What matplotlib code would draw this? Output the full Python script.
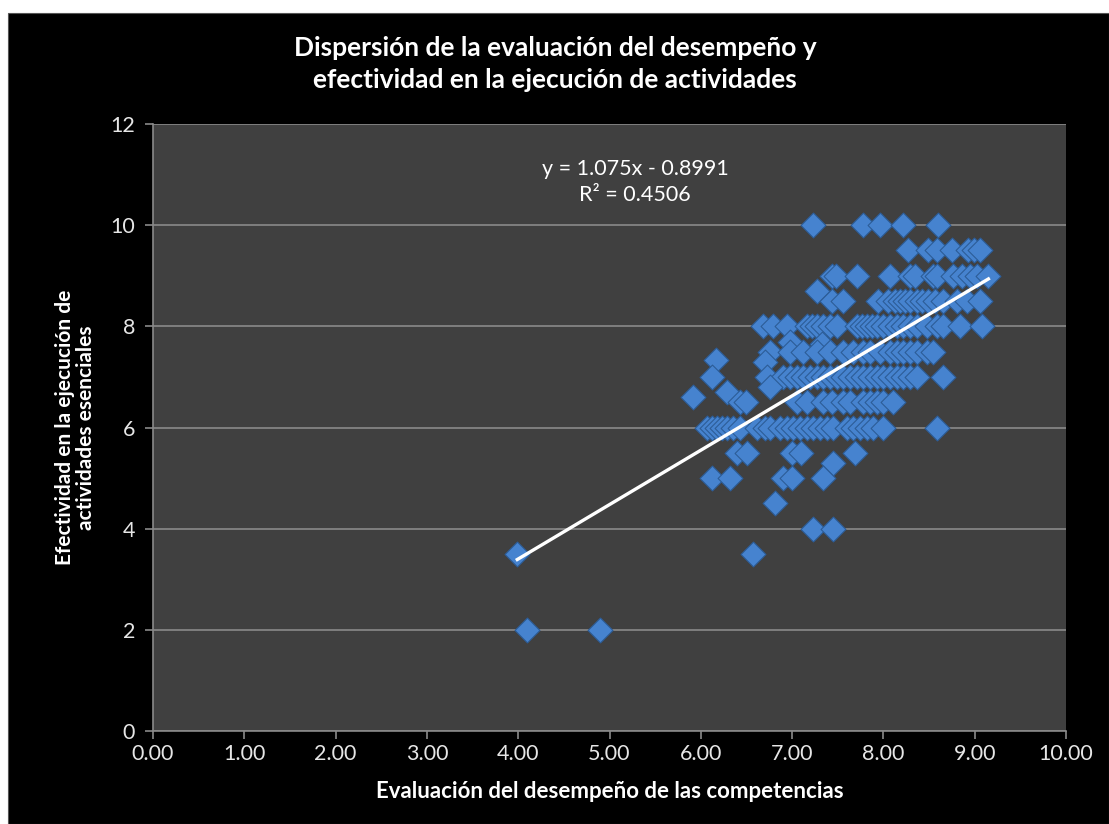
import numpy as np
import matplotlib
matplotlib.use("Agg")
import matplotlib.pyplot as plt
from matplotlib.patches import Rectangle

plt.rcParams['font.family'] = ['Lato', 'DejaVu Sans']

# Data (evaluacion del desempeno, efectividad)
evaluacion = [
    7.23, 7.78, 7.96, 8.21, 8.60,                                   # 10
    8.27, 8.49, 8.59, 8.75, 8.93, 8.99, 9.06,                       # 9.5
    7.44, 7.48, 7.71, 8.07, 8.29, 8.35, 8.54, 8.59, 8.76, 8.86,
    8.95, 9.03, 9.15,                                               # 9
    7.27,                                                           # 8.7
    7.44, 7.56, 7.94, 8.05, 8.13, 8.18, 8.24, 8.29, 8.37, 8.42,
    8.49, 8.57, 8.65, 8.81, 8.92, 9.06,                             # 8.5
    6.68, 6.79, 6.94, 7.16, 7.22, 7.27, 7.34, 7.42, 7.49, 7.71,
    7.77, 7.82, 7.88, 7.93, 8.00, 8.07, 8.15, 8.21, 8.29, 8.37,
    8.48, 8.59, 8.65, 8.84, 9.08,                                   # 8
    6.98, 7.33,                                                     # 7.7
    6.76, 6.98, 7.12, 7.27, 7.42, 7.56, 7.67, 7.78, 7.85, 7.96,
    8.07, 8.15, 8.21, 8.29, 8.37, 8.48, 8.54,                       # 7.5
    6.17, 6.70,                                                     # 7.3
    6.12, 6.72, 6.90, 6.98, 7.05, 7.12, 7.20, 7.27, 7.34, 7.42,
    7.49, 7.56, 7.63, 7.71, 7.78, 7.85, 7.93, 8.00, 8.07, 8.15,
    8.21, 8.29, 8.37, 8.65,                                         # 7
    6.29, 6.76,                                                     # 6.7
    5.91,                                                           # 6.6
    6.43, 6.50, 7.05, 7.16, 7.34, 7.44, 7.56, 7.63, 7.78, 7.85,
    7.93, 8.00, 8.10,                                               # 6.5
    6.07, 6.12, 6.18, 6.23, 6.29, 6.35, 6.43, 6.62, 6.70, 6.76,
    6.87, 6.94, 7.01, 7.09, 7.16, 7.23, 7.31, 7.38, 7.45, 7.60,
    7.67, 7.74, 7.82, 7.89, 8.00, 8.59,                             # 6
    6.40, 6.51, 7.00, 7.10, 7.69,                                   # 5.5
    7.45,                                                           # 5.3
    6.12, 6.32, 6.90, 7.00, 7.34,                                   # 5
    6.81,                                                           # 4.5
    7.23, 7.45,                                                     # 4
    3.99, 6.57,                                                     # 3.5
    4.10, 4.90,                                                     # 2
]
efectividad = [
    10, 10, 10, 10, 10,
    9.5, 9.5, 9.5, 9.5, 9.5, 9.5, 9.5,
    9, 9, 9, 9, 9, 9, 9, 9, 9, 9,
    9, 9, 9,
    8.7,
    8.5, 8.5, 8.5, 8.5, 8.5, 8.5, 8.5, 8.5, 8.5, 8.5,
    8.5, 8.5, 8.5, 8.5, 8.5, 8.5,
    8, 8, 8, 8, 8, 8, 8, 8, 8, 8,
    8, 8, 8, 8, 8, 8, 8, 8, 8, 8,
    8, 8, 8, 8, 8,
    7.7, 7.65,
    7.5, 7.5, 7.5, 7.5, 7.5, 7.5, 7.5, 7.5, 7.5, 7.5,
    7.5, 7.5, 7.5, 7.5, 7.5, 7.5, 7.5,
    7.33, 7.3,
    7, 7, 7, 7, 7, 7, 7, 7, 7, 7,
    7, 7, 7, 7, 7, 7, 7, 7, 7, 7,
    7, 7, 7, 7,
    6.7, 6.8,
    6.6,
    6.5, 6.5, 6.5, 6.5, 6.5, 6.5, 6.5, 6.5, 6.5, 6.5,
    6.5, 6.5, 6.5,
    6, 6, 6, 6, 6, 6, 6, 6, 6, 6,
    6, 6, 6, 6, 6, 6, 6, 6, 6, 6,
    6, 6, 6, 6, 6, 6,
    5.5, 5.5, 5.5, 5.5, 5.5,
    5.3,
    5, 5, 5, 5, 5,
    4.5,
    4, 4,
    3.5, 3.5,
    2, 2,
]

# Linear trend reported on the chart
pendiente = 1.075
intercepto = -0.8991
r_cuadrado = 0.4506

x_ticks = [0, 1, 2, 3, 4, 5, 6, 7, 8, 9, 10]
y_ticks = [0, 2, 4, 6, 8, 10, 12]

fig = plt.figure(figsize=(11.09, 8.24), dpi=100, facecolor='white')
# black chart background with thin white margin at top and left
fig.patches.append(Rectangle((8 / 1109, 0), 1 - 8 / 1109, 1 - 13 / 824,
                             transform=fig.transFigure, facecolor='black',
                             edgecolor='#555555', linewidth=0.8, zorder=-10))

ax = fig.add_axes([153 / 1109, 93 / 824, 913 / 1109, 607 / 824])
ax.set_facecolor('#404040')

ax.scatter(evaluacion, efectividad, marker='D', s=160, color='#4683cf',
           edgecolors='#2c5d98', linewidths=0.8, zorder=3)

x_line = np.array([min(evaluacion), max(evaluacion)])
ax.plot(x_line, pendiente * x_line + intercepto, color='white', lw=2.4, zorder=4)

ax.text(5.28, 11.12, 'y = 1.075x - 0.8991', color='white', fontsize=15.5,
        ha='center', va='center')
ax.text(5.28, 10.6, 'R² = ' + str(r_cuadrado), color='white', fontsize=15.5,
        ha='center', va='center')

ax.set_xlim(0, 10)
ax.set_ylim(0, 12)
ax.set_xticks(x_ticks)
ax.set_xticklabels(['%.2f' % v for v in x_ticks])
ax.set_yticks(y_ticks)
ax.yaxis.grid(True, color='#8a8a8a', lw=1.2)
ax.set_axisbelow(True)

for side in ['top', 'right']:
    ax.spines[side].set_visible(False)
for side in ['left', 'bottom']:
    ax.spines[side].set_color('#8a8a8a')
    ax.spines[side].set_linewidth(1.2)

ax.tick_params(axis='both', colors='#8a8a8a', labelcolor='#e6e6e6',
               labelsize=15.5, length=6, width=1.2, direction='out')
ax.tick_params(axis='y', pad=7)

ax.set_xlabel('Evaluación del desempeño de las competencias', color='white',
              fontsize=16, fontweight='bold', labelpad=12)
ax.set_ylabel('Efectividad en la ejecución de\nactividades esenciales',
              color='white', fontsize=15, fontweight='bold', labelpad=10,
              linespacing=1.1)

fig.text(555 / 1109, 1 - 64 / 824,
         'Dispersión de la evaluación del desempeño y\nefectividad en la ejecución de actividades',
         color='white', fontsize=19, fontweight='bold', ha='center', va='center',
         linespacing=1.4)

fig.savefig('out.png', dpi=100, facecolor=fig.get_facecolor())
